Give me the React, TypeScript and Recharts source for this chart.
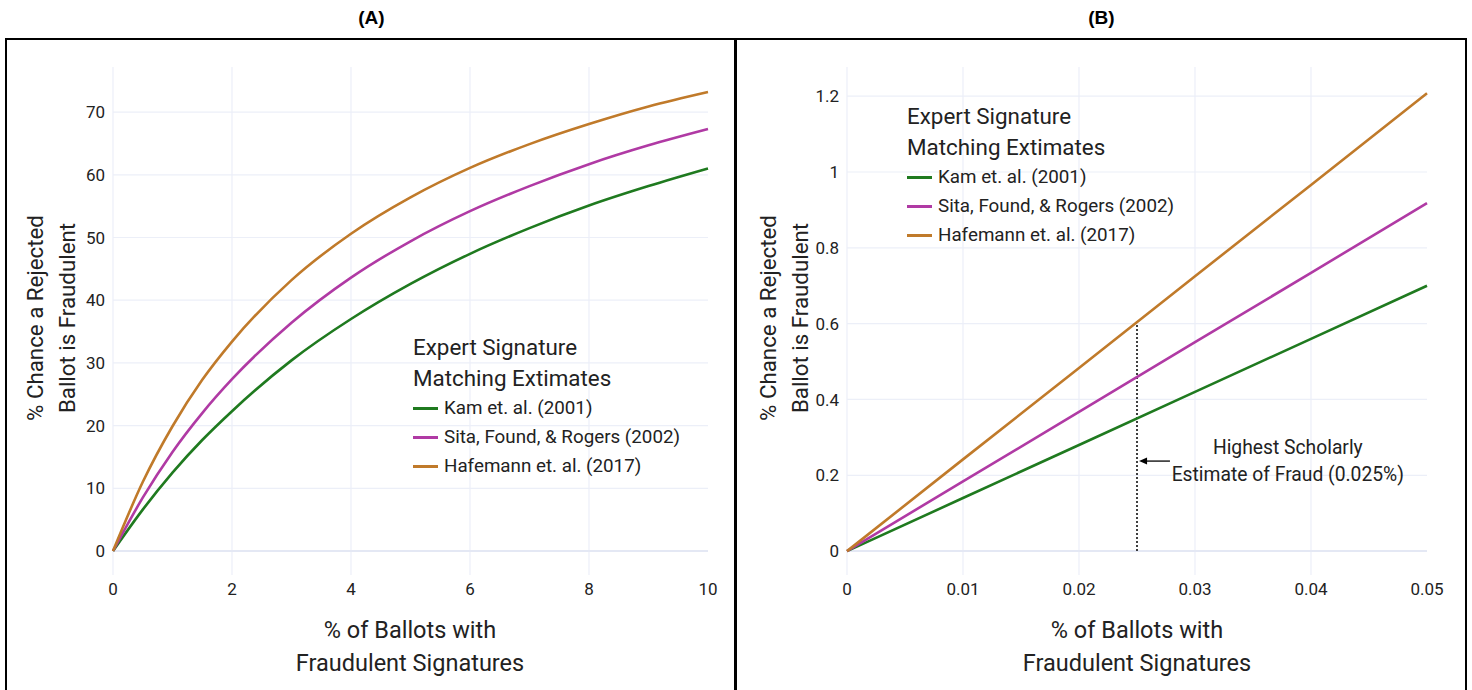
import { LineChart, Line, XAxis, YAxis, CartesianGrid, Legend, ReferenceLine, ReferenceDot } from 'recharts';

// panel A: % of ballots with fraudulent signatures vs % chance a rejected ballot is fraudulent
const pctA = [0, 0.5, 1, 1.5, 2, 3, 4, 5, 6, 7, 8, 9, 10];
const kamA = [0, 6.6, 12.5, 17.7, 22.3, 30.4, 37.0, 42.6, 47.4, 51.5, 55.1, 58.2, 61.0];
const sitaA = [0, 8.5, 15.8, 22.0, 27.4, 36.4, 43.6, 49.4, 54.2, 58.2, 61.7, 64.7, 67.3];
const hafA = [0, 11.0, 19.9, 27.3, 33.4, 43.2, 50.6, 56.4, 61.1, 64.9, 68.1, 70.9, 73.2];

// panel B: zoomed in on very small fraud rates
const pctB = [0, 0.01, 0.02, 0.03, 0.04, 0.05];
const kamB = [0, 0.14, 0.28, 0.42, 0.56, 0.70];
const sitaB = [0, 0.184, 0.367, 0.551, 0.734, 0.918];
const hafB = [0, 0.242, 0.483, 0.725, 0.966, 1.208];

const ticksXA = [0, 2, 4, 6, 8, 10];
const ticksYA = [0, 10, 20, 30, 40, 50, 60, 70];
const ticksXB = [0, 0.01, 0.02, 0.03, 0.04, 0.05];
const ticksYB = [0, 0.2, 0.4, 0.6, 0.8, 1, 1.2];

const scholarlyEstimate = 0.025;
const hafAtEstimate = 0.605;

const series = [
  { key: 'kam', name: 'Kam et. al. (2001)', color: '#1f7a1f' },
  { key: 'sita', name: 'Sita, Found, & Rogers (2002)', color: '#b03aa4' },
  { key: 'haf', name: 'Hafemann et. al. (2017)', color: '#c07a2a' },
];

const dataA = pctA.map((x, i) => ({ x, kam: kamA[i], sita: sitaA[i], haf: hafA[i] }));
const dataB = pctB.map((x, i) => ({ x, kam: kamB[i], sita: sitaB[i], haf: hafB[i] }));

const font = 'Roboto, sans-serif';
const gridColor = '#eceff8';

const LegendBox = () => (
  <div style={{ fontFamily: font, color: '#222', lineHeight: 1, whiteSpace: 'nowrap' }}>
    <div style={{ fontSize: 22.4, lineHeight: '31px' }}>Expert Signature</div>
    <div style={{ fontSize: 22.4, lineHeight: '31px' }}>Matching Extimates</div>
    {series.map((s) => (
      <div key={s.key} style={{ display: 'flex', alignItems: 'center', height: 29, fontSize: 18.8 }}>
        <span style={{ display: 'inline-block', width: 25, height: 3, background: s.color, marginRight: 6 }} />
        {s.name}
      </div>
    ))}
  </div>
);

const AxisTitleY = ({ left }: { left: number }) => (
  <div style={{ position: 'absolute', left, top: 318, width: 0, height: 0 }}>
    <div
      style={{
        position: 'absolute', left: -160, top: -32, width: 320, textAlign: 'center',
        transform: 'rotate(-90deg)', fontFamily: font, fontSize: 22.3, lineHeight: '32px', color: '#222',
      }}
    >
      % Chance a Rejected<br />Ballot is Fraudulent
    </div>
  </div>
);

const AxisTitleX = ({ center }: { center: number }) => (
  <div
    style={{
      position: 'absolute', left: center - 200, top: 614, width: 400, textAlign: 'center',
      fontFamily: font, fontSize: 23.5, lineHeight: '33px', color: '#222',
    }}
  >
    % of Ballots with<br />Fraudulent Signatures
  </div>
);

const arrowShape = (p: any) => {
  const { x1, y1, x2, y2 } = p;
  return (
    <g>
      <line x1={x1} y1={y1} x2={x2 + 6} y2={y2} stroke="#000" strokeWidth={1.3} />
      <polygon points={`${x2},${y2} ${x2 + 8},${y2 - 3.5} ${x2 + 8},${y2 + 3.5}`} fill="#000" />
    </g>
  );
};

const noteShape = (p: any) => (
  <text x={p.cx} y={p.cy} textAnchor="middle" fontFamily={font} fontSize={19.3} fill="#222">
    <tspan x={p.cx} dy={-7}>Highest Scholarly</tspan>
    <tspan x={p.cx} dy={27}>Estimate of Fraud (0.025%)</tspan>
  </text>
);

const tickStyle = { fontFamily: font, fontSize: 17, fill: '#222' };

const App = () => {
  return (
    <div style={{ position: 'absolute', left: 0, top: 0, width: 1472, height: 690, background: '#fff', overflow: 'hidden' }}>
      {/* titles */}
      <div style={{ position: 'absolute', left: 6, width: 731, top: 7, textAlign: 'center', fontFamily: 'Liberation Sans, Arial, sans-serif', fontWeight: 'bold', fontSize: 19 }}>(A)</div>
      <div style={{ position: 'absolute', left: 736, width: 731, top: 7, textAlign: 'center', fontFamily: 'Liberation Sans, Arial, sans-serif', fontWeight: 'bold', fontSize: 19 }}>(B)</div>

      {/* Panel A */}
      <div style={{ position: 'absolute', left: 0, top: 0 }}>
        <LineChart width={740} height={690} data={dataA} margin={{ top: 67, right: 32, bottom: 75, left: 53 }}>
          <CartesianGrid stroke={gridColor} strokeWidth={1.2} verticalValues={[0, 2, 4, 6, 8]} horizontalValues={ticksYA} />
          <XAxis dataKey="x" type="number" domain={[0, 10]} ticks={ticksXA} axisLine={false} tickLine={false} tick={tickStyle} height={40} />
          <YAxis type="number" domain={[-3.83, 77.2]} ticks={ticksYA} axisLine={false} tickLine={false} tick={tickStyle} width={60} allowDataOverflow />
          <ReferenceLine y={0} stroke="#e4e8f4" strokeWidth={2} />
          {series.map((s) => (
            <Line key={s.key} dataKey={s.key} name={s.name} type="monotone" stroke={s.color} strokeWidth={2.6} dot={false} isAnimationActive={false} />
          ))}
          <Legend
            layout="horizontal"
            verticalAlign="middle"
            align="center"
            content={() => <LegendBox />}
            wrapperStyle={{ left: 413, top: 332, width: 300, bottom: 'auto' }}
          />
        </LineChart>
      </div>

      {/* Panel B */}
      <div style={{ position: 'absolute', left: 740, top: 0 }}>
        <LineChart width={732} height={690} data={dataB} margin={{ top: 67, right: 45, bottom: 75, left: 47 }}>
          <CartesianGrid stroke={gridColor} strokeWidth={1.2} verticalValues={[0, 0.01, 0.02, 0.03, 0.04]} horizontalValues={ticksYB} />
          <XAxis dataKey="x" type="number" domain={[0, 0.05]} ticks={ticksXB} axisLine={false} tickLine={false} tick={tickStyle} height={40} />
          <YAxis type="number" domain={[-0.063, 1.277]} ticks={ticksYB} axisLine={false} tickLine={false} tick={tickStyle} width={60} allowDataOverflow />
          <ReferenceLine y={0} stroke="#e4e8f4" strokeWidth={2} />
          <ReferenceLine
            segment={[{ x: scholarlyEstimate, y: 0 }, { x: scholarlyEstimate, y: hafAtEstimate }]}
            stroke="#000"
            strokeWidth={1.5}
            strokeDasharray="2 2"
          />
          <ReferenceLine
            segment={[{ x: 0.02784, y: 0.2375 }, { x: 0.02518, y: 0.2375 }]}
            shape={arrowShape}
          />
          <ReferenceDot x={0.0380} y={0.2375} shape={noteShape} />
          {series.map((s) => (
            <Line key={s.key} dataKey={s.key} name={s.name} type="linear" stroke={s.color} strokeWidth={2.6} dot={false} isAnimationActive={false} />
          ))}
          <Legend
            layout="horizontal"
            verticalAlign="middle"
            align="center"
            content={() => <LegendBox />}
            wrapperStyle={{ left: 167, top: 101, width: 300, bottom: 'auto' }}
          />
        </LineChart>
      </div>

      <AxisTitleY left={51} />
      <AxisTitleY left={784} />
      <AxisTitleX center={410} />
      <AxisTitleX center={1137} />

      {/* panel frames */}
      <div style={{ position: 'absolute', left: 5, top: 38, width: 727, height: 700, border: '2.5px solid #000' }} />
      <div style={{ position: 'absolute', left: 735, top: 38, width: 728, height: 700, border: '2.5px solid #000' }} />
    </div>
  );
};

export default App;
